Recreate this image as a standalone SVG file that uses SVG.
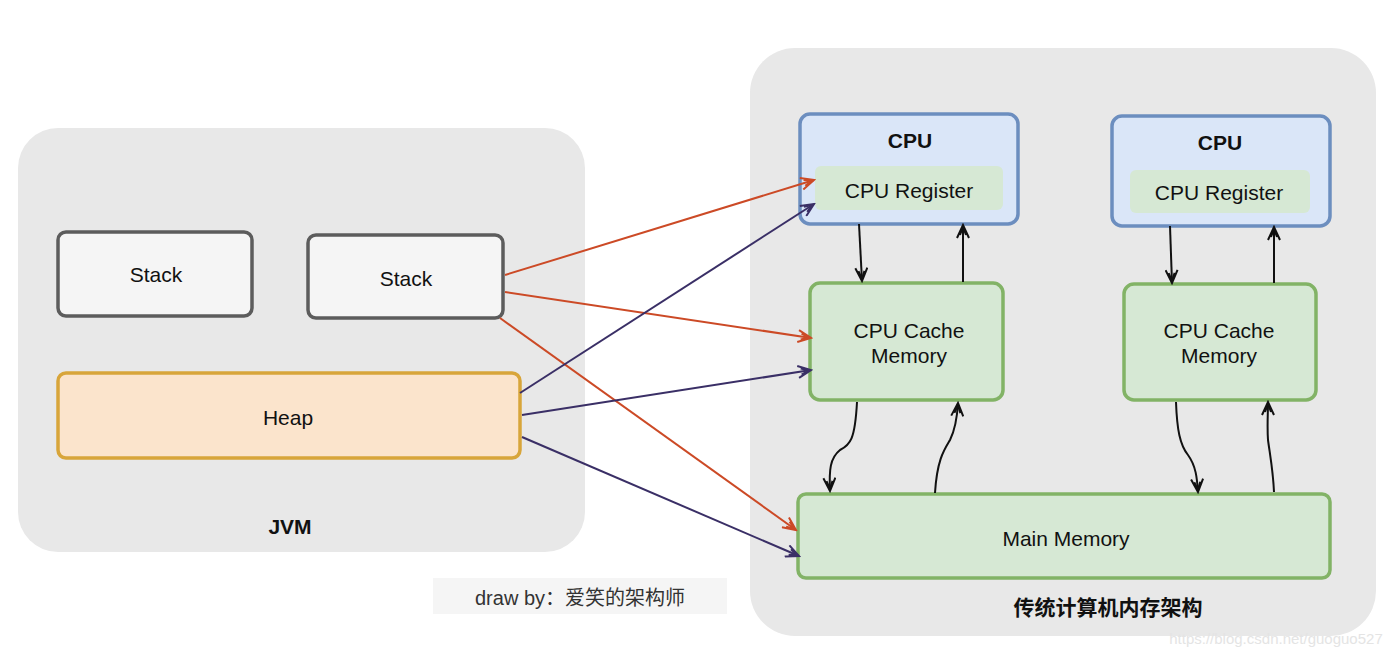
<svg xmlns="http://www.w3.org/2000/svg" width="1400" height="669" viewBox="0 0 1400 669">
<defs>
<style>
.t{font-family:"Liberation Sans",Arial,"Noto Sans CJK SC",sans-serif;fill:#111;font-size:21px;text-anchor:middle;dominant-baseline:central}
.b{font-weight:bold}
.cont{fill:#e8e8e8}
.stack{fill:#f5f5f5;stroke:#5c5c5c;stroke-width:3.5}
.heap{fill:#fbe4cc;stroke:#d8a53a;stroke-width:3.5}
.cpu{fill:#dae6f8;stroke:#6c8ebf;stroke-width:3.5}
.reg{fill:#d6e8d4}
.grn{fill:#d6e8d4;stroke:#82b366;stroke-width:3.5}
.red{stroke:#cc4a26;stroke-width:2;fill:none;marker-end:url(#mr)}
.pur{stroke:#3a2f66;stroke-width:2;fill:none;marker-end:url(#mp)}
.blk{stroke:#111;stroke-width:2;fill:none;marker-end:url(#mb)}
</style>
<marker id="mr" markerUnits="userSpaceOnUse" markerWidth="16" markerHeight="14" refX="14" refY="7" orient="auto"><path d="M1,1 L14,7 L1,13 M4,4 L12,7 L4,10" fill="none" stroke="#cc4a26" stroke-width="2"/></marker>
<marker id="mp" markerUnits="userSpaceOnUse" markerWidth="16" markerHeight="14" refX="14" refY="7" orient="auto"><path d="M1,1 L14,7 L1,13 M4,4 L12,7 L4,10" fill="none" stroke="#3a2f66" stroke-width="2"/></marker>
<marker id="mb" markerUnits="userSpaceOnUse" markerWidth="16" markerHeight="14" refX="14" refY="7" orient="auto"><path d="M1,1 L14,7 L1,13 M4,4 L12,7 L4,10" fill="none" stroke="#111" stroke-width="2"/></marker>
</defs>
<rect width="1400" height="669" fill="#ffffff"/>

<g id="jvm">
<rect class="cont" x="18" y="128" width="567" height="424" rx="40"/>
<text class="t b" x="290" y="526">JVM</text>
</g>
<g id="traditional">
<rect class="cont" x="750" y="48" width="626" height="588" rx="45"/>
<text class="t b" x="1108" y="607">传统计算机内存架构</text>
</g>

<g id="stack1">
<rect class="stack" x="58" y="232" width="194" height="84" rx="8"/>
<text class="t" x="156" y="274">Stack</text>
</g>
<g id="stack2">
<rect class="stack" x="308" y="235" width="195" height="83" rx="8"/>
<text class="t" x="406" y="278">Stack</text>
</g>
<g id="heap">
<rect class="heap" x="58" y="373" width="462" height="85" rx="8"/>
<text class="t" x="288" y="417">Heap</text>
</g>

<g id="cpu1">
<rect class="cpu" x="800" y="114" width="218" height="110" rx="10"/>
<text class="t b" x="910" y="140">CPU</text>
<rect class="reg" x="815" y="166" width="188" height="44" rx="6"/>
<text class="t" x="909" y="190">CPU Register</text>
</g>
<g id="cpu2">
<rect class="cpu" x="1112" y="116" width="218" height="110" rx="10"/>
<text class="t b" x="1220" y="142">CPU</text>
<rect class="reg" x="1130" y="170" width="180" height="43" rx="6"/>
<text class="t" x="1219" y="192">CPU Register</text>
</g>
<g id="cache1">
<rect class="grn" x="810" y="283" width="193" height="117" rx="10"/>
<text class="t" x="909" y="330">CPU Cache</text>
<text class="t" x="909" y="355">Memory</text>
</g>
<g id="cache2">
<rect class="grn" x="1124" y="284" width="192" height="116" rx="10"/>
<text class="t" x="1219" y="330">CPU Cache</text>
<text class="t" x="1219" y="355">Memory</text>
</g>
<g id="main">
<rect class="grn" x="798" y="494" width="532" height="84" rx="8"/>
<text class="t" x="1066" y="538">Main Memory</text>
</g>

<g id="connectors">
<path class="red" d="M505,275 L814,180"/>
<path class="red" d="M505,292 L811,338"/>
<path class="red" d="M500,318 L796,530"/>
<path class="pur" d="M520,393 L814,204"/>
<path class="pur" d="M522,415 L811,370"/>
<path class="pur" d="M522,437 L799,556"/>
<path class="blk" d="M859,224 L862,281"/>
<path class="blk" d="M963,282 L963,225"/>
<path class="blk" d="M857,402 C855,440 850,445 840,450 C830,458 829,470 830,491"/>
<path class="blk" d="M935,493 C937,460 944,450 950,440 C955,430 957,420 958,403"/>
<path class="blk" d="M1170,226 L1172,283"/>
<path class="blk" d="M1274,283 L1274,227"/>
<path class="blk" d="M1176,402 C1177,430 1180,445 1188,455 C1196,466 1197,478 1198,492"/>
<path class="blk" d="M1274,492 C1273,470 1270,455 1268,440 C1267,425 1268,415 1268,402"/>
</g>

<g id="credit">
<rect x="433" y="578" width="294" height="36" fill="#f5f5f5"/>
<text class="t" x="580" y="598" style="fill:#333;font-size:20px">draw by：爱笑的架构师</text>
</g>
<text class="t" x="1276" y="638" style="fill:#e4e4e4;font-size:15px">https://blog.csdn.net/guoguo527</text>
</svg>
